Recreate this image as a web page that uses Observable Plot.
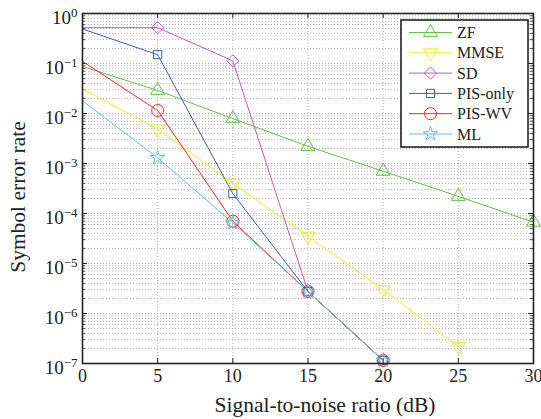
<!DOCTYPE html>
<html>
<head>
<meta charset="utf-8">
<script src="https://cdn.jsdelivr.net/npm/d3@7"></script>
<script src="https://cdn.jsdelivr.net/npm/@observablehq/plot@0.6"></script>
<style>
  html, body { margin: 0; padding: 0; background: #fff; }
  #chart { position: relative; width: 541px; height: 419px; }
  #chart svg text { font-family: "Liberation Serif", "Times New Roman", serif !important; fill: #222; }
  #chart svg g[aria-label="x-axis tick label"] text { font-size: 18px !important; }
  #chart svg g[aria-label="y-axis tick label"] text { font-size: 19px !important; }
  #chart svg g[aria-label="y-axis tick label"] text tspan.sup { font-size: 13px !important; }
  #chart svg g.axis-title text { font-size: 21.5px !important; }
  #chart svg g.legend-text text { font-size: 16px !important; }
</style>
</head>
<body>
<div id="chart"></div>
<script>
// ---- data ----
const snr = [0, 5, 10, 15, 20, 25, 30];
const seriesNames = ["ZF", "MMSE", "SD", "PIS-only", "PIS-WV", "ML"];
const zf      = [0.087, 0.029, 0.0079, 0.0022, 7.0e-4, 2.2e-4, 6.7e-5];
const mmse    = [0.031, 0.0049, 4.0e-4, 3.5e-5, 3.0e-6, 2.2e-7];
const sd      = [0.52, 0.52, 0.113, 2.75e-6, 1.15e-7];
const pisOnly = [0.49, 0.15, 2.5e-4, 2.75e-6, 1.15e-7];
const pisWV   = [0.11, 0.0115, 7.0e-5, 2.75e-6, 1.15e-7];
const ml      = [0.018, 1.3e-3, 6.5e-5, 2.75e-6, 1.15e-7];
const yTickExps = [0, -1, -2, -3, -4, -5, -6, -7];
const xTicks = [0, 5, 10, 15, 20, 25, 30];
const xTitle = "Signal-to-noise ratio (dB)";
const yTitle = "Symbol error rate";

const colors = ["#66c04a", "#f0ec20", "#c45cb4", "#3a5eae", "#f2262a", "#5ec4d6"];
function tri(up) {
  return {
    draw(ctx, size) {
      const s = Math.sqrt(size / (Math.sqrt(3) / 4));
      const h = s * Math.sqrt(3) / 2;
      const k = up ? -1 : 1;
      ctx.moveTo(0, k * h * 2 / 3);
      ctx.lineTo(s / 2, -k * h / 3);
      ctx.lineTo(-s / 2, -k * h / 3);
      ctx.closePath();
    }
  };
}
const symbols = [tri(true), tri(false), "diamond2", "square", "circle", "star"];
const radii = [5.2, 5.2, 5.5, 4.6, 6, 4.5];

const allSeries = [zf, mmse, sd, pisOnly, pisWV, ml];
const rows = [];
allSeries.forEach((vals, i) => vals.forEach((v, j) => rows.push({s: i, x: snr[j], y: v})));

const minorY = [];
for (let k = -7; k < 0; k++) for (let m = 2; m <= 9; m++) minorY.push(m * Math.pow(10, k));
const majorY = yTickExps.map(e => Math.pow(10, e));

// legend geometry (pixels)
const legRow = 20.3, legFirst = 32.5;

const marks = [
  Plot.ruleY(minorY.concat(majorY.slice(1, -1)), {stroke: "#a0a0a0", strokeWidth: 0.8, strokeDasharray: "1,2"}),
  Plot.ruleX([5, 10, 15, 20, 25], {stroke: "#a0a0a0", strokeWidth: 0.8, strokeDasharray: "1,2"}),
  // inward ticks
  Plot.ruleY(majorY, {x1: 0, x2: 0, insetRight: -5, stroke: "#222", strokeWidth: 1}),
  Plot.ruleY(majorY, {x1: 30, x2: 30, insetLeft: -5, stroke: "#222", strokeWidth: 1}),
  Plot.ruleY(minorY, {x1: 0, x2: 0, insetRight: -3, stroke: "#222", strokeWidth: 0.8}),
  Plot.ruleY(minorY, {x1: 30, x2: 30, insetLeft: -3, stroke: "#222", strokeWidth: 0.8}),
  Plot.ruleX(xTicks, {y1: 1, y2: 1, insetBottom: -5, stroke: "#222", strokeWidth: 1}),
  Plot.ruleX(xTicks, {y1: 1e-7, y2: 1e-7, insetTop: -5, stroke: "#222", strokeWidth: 1}),
];
allSeries.forEach((vals, i) => {
  marks.push(Plot.line(rows.filter(r => r.s === i), {x: "x", y: "y", stroke: colors[i], strokeWidth: 1}));
});
allSeries.forEach((vals, i) => {
  marks.push(Plot.dot(rows.filter(r => r.s === i && r.x > 0), {x: "x", y: "y", symbol: symbols[i], r: radii[i], stroke: colors[i], strokeWidth: 1, fill: "none"}));
});
marks.push(
  Plot.frame({stroke: "#222", strokeWidth: 1.6}),
  Plot.axisX({ticks: xTicks, tickSize: 0, tickPadding: 6, label: null}),
  Plot.axisY({ticks: majorY, tickSize: 0, tickPadding: 5, tickFormat: d => "10^" + Math.round(Math.log10(d)), label: null})
);

const chart = Plot.plot({
  width: 541,
  height: 419,
  marginLeft: 82,
  marginRight: 8,
  marginTop: 13,
  marginBottom: 56,
  style: {background: "#fff", color: "#222"},
  x: {domain: [0, 30]},
  y: {type: "log", domain: [1e-7, 1]},
  marks
});

const svg = d3.select(chart);

// axis titles placed like the reference
const at = svg.append("g").attr("class", "axis-title").attr("text-anchor", "middle");
at.append("text").attr("transform", "translate(325,412)").attr("text-anchor", "middle").text(xTitle);
at.append("text").attr("transform", "translate(25,197) rotate(-90)").attr("text-anchor", "middle").text(yTitle);

// superscript exponents on the y tick labels
svg.selectAll('g[aria-label="y-axis tick label"] text').each(function () {
  const t = d3.select(this);
  const exp = t.text().split("^")[1];
  t.text("");
  t.attr("dy", "0.22em");
  t.append("tspan").text("10");
  t.append("tspan").attr("class", "sup").attr("dy", "-0.5em").text(exp.replace("-", "\u2212"));
});

// legend (box, sample lines, markers with the same symbols, labels)
const lg = svg.append("g");
lg.append("rect").attr("x", 401).attr("y", 20).attr("width", 127).attr("height", 127)
  .attr("fill", "#fff").attr("stroke", "#222").attr("stroke-width", 1.6);
seriesNames.forEach((name, i) => {
  const y = legFirst + i * legRow;
  lg.append("line").attr("x1", 409).attr("x2", 452).attr("y1", y).attr("y2", y)
    .attr("stroke", colors[i]).attr("stroke-width", 1);
  const typ = typeof symbols[i] === "string"
    ? {diamond2: d3.symbolDiamond2, square: d3.symbolSquare, circle: d3.symbolCircle, star: d3.symbolStar}[symbols[i]]
    : symbols[i];
  lg.append("path").attr("transform", `translate(430.5,${y})`)
    .attr("d", d3.symbol(typ, radii[i] * radii[i] * Math.PI)())
    .attr("fill", "none").attr("stroke", colors[i]).attr("stroke-width", 1);
});
const lt = svg.append("g").attr("class", "legend-text").attr("text-anchor", "start");
seriesNames.forEach((name, i) => {
  const y = legFirst + i * legRow;
  lt.append("text").attr("x", 457).attr("y", y).attr("dy", "0.35em").attr("text-anchor", "start").text(name);
});

document.getElementById("chart").appendChild(chart);
</script>
</body>
</html>
